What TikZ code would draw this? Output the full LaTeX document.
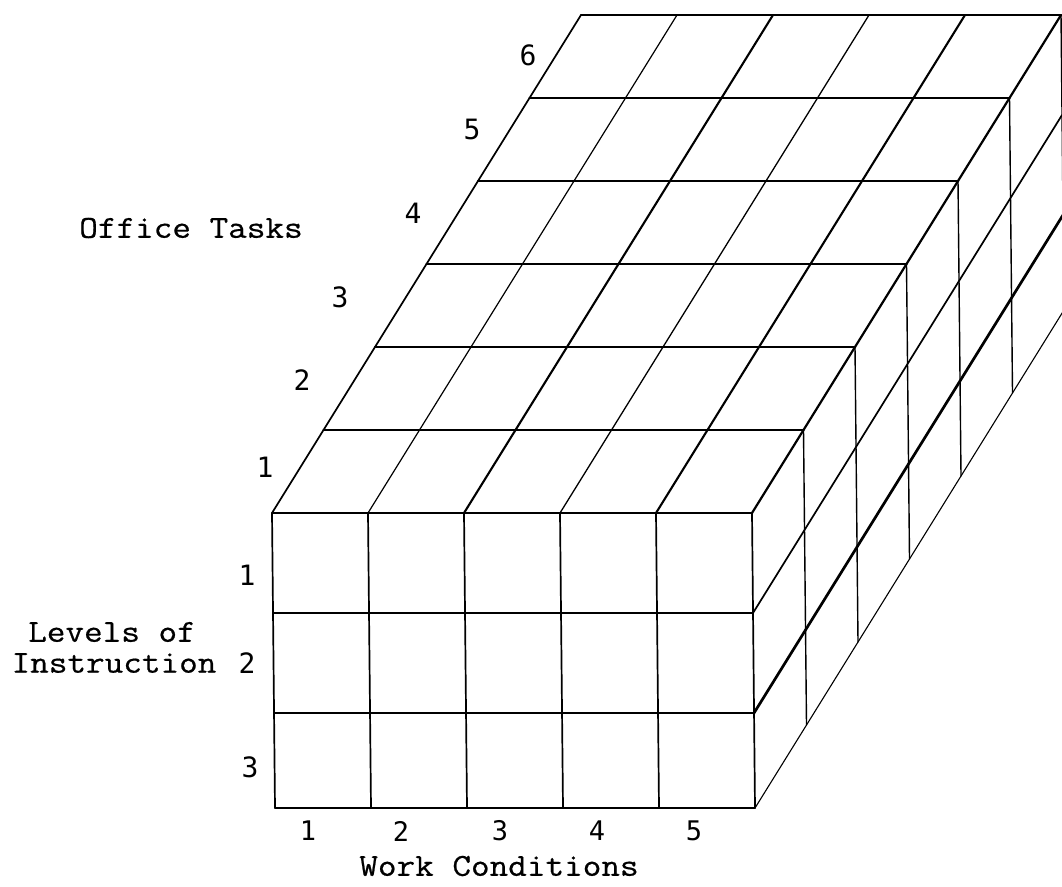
\documentclass[tikz,border=0pt]{standalone}
\usepackage{fontspec}
\newfontfamily\labfont[FakeStretch=1.13,FakeBold=0.6]{Latin Modern Mono}
\newfontfamily\numfont{DejaVu Sans Mono}
\begin{document}
\begin{tikzpicture}[x=1pt,y=-1pt,
  lab/.style={font=\labfont\fontsize{32}{36}\selectfont, inner sep=0pt},
  num/.style={font=\numfont\fontsize{28}{34}\selectfont, inner sep=0pt},
  bnum/.style={font=\numfont\fontsize{27}{30}\selectfont, inner sep=0pt},
  edge/.style={line width=1.7pt, line cap=round, line join=round},
  thinedge/.style={line width=1.1pt, line cap=round},
  thickedge/.style={line width=2.4pt, line cap=round}]
\useasboundingbox (0,0) rectangle (1062,886);
\begin{scope}
\clip (0,0) rectangle (1062,886);
% depth vector (51.5,-83)
% top face: depth rows
\foreach \k in {1,...,6}{
  \draw[thickedge] ({272+51.5*\k},{513-83*\k}) -- ({752+51.5*\k},{513-83*\k});
}
% top face: diagonals
\foreach \i/\w in {0/1.7,1/1.2,2/2.1,3/1.3,4/2.1,5/2.2}{
  \draw[line width=\w pt, line cap=round] ({272+96*\i},513) -- ({272+96*\i+309},15);
}
% right face verticals
\foreach \k in {1,...,6}{
  \draw[edge, line width=1.4pt] ({752+51.5*\k},{513-83*\k}) -- ({755+51.5*\k},{808-83*\k});
}
% right face slanted lines
\draw[edge] (753,613) -- ++(309,-498);
\draw[thickedge, line width=2.7pt] (754,713) -- ++(309,-498);
\draw[thinedge] (755,808) -- ++(309,-498);
% front face verticals
\foreach \i in {0,...,5}{
  \draw[edge] ({272+96*\i},513) -- ({275+96*\i},808);
}
% front face rows
\foreach \y/\dx in {513/0,613/1,713/2,808/3}{
  \draw[edge] ({272+\dx},\y) -- ({752+\dx},\y);
}
\end{scope}
% labels
\node[lab] (office) at (191,228) {Office Tasks};
\node[num] (t1) at (265,467) {1};
\node[num] (t2) at (302,380) {2};
\node[num] (t3) at (340,297) {3};
\node[num] (t4) at (413,213) {4};
\node[num] (t5) at (472,129) {5};
\node[num] (t6) at (528,55) {6};
\node[lab] (levels) at (112,632) {Levels of};
\node[lab] (instr) at (114,663) {Instruction};
\node[num] (l1) at (247,575) {1};
\node[num] (l2) at (247,663) {2};
\node[num] (l3) at (250,767) {3};
\node[bnum] (w1) at (308,831) {1};
\node[bnum] (w2) at (401,831) {2};
\node[bnum] (w3) at (500,831) {3};
\node[bnum] (w4) at (597,831) {4};
\node[bnum] (w5) at (694,831) {5};
\node[lab] (work) at (499,866) {Work Conditions};
\end{tikzpicture}
\end{document}
